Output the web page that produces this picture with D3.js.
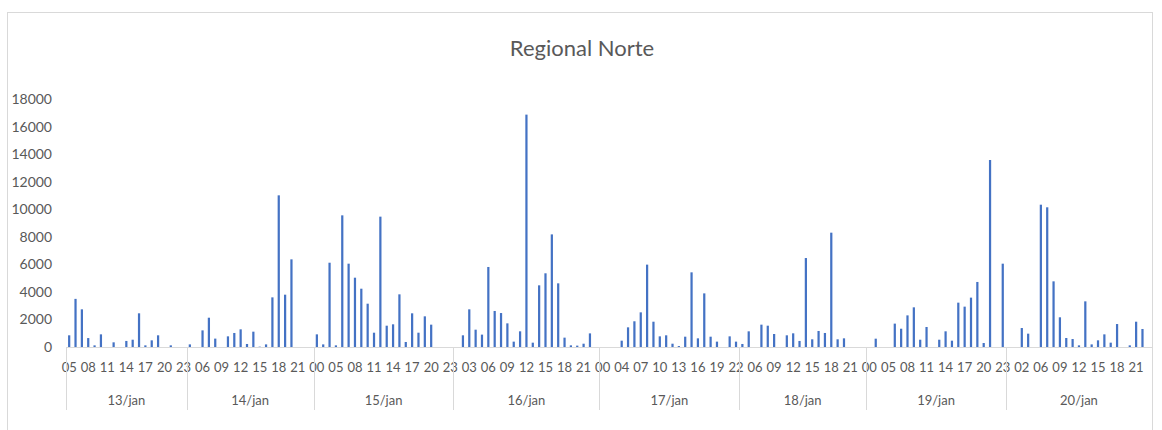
<!DOCTYPE html>
<html>
<head>
<meta charset="utf-8">
<script src="https://cdn.jsdelivr.net/npm/d3@7"></script>
<style>
  html, body { margin: 0; padding: 0; background: #fff; }
  svg { display: block; }
  text { font-family: Lato, "Open Sans", sans-serif; fill: #595959; }
</style>
</head>
<body>
<svg id="chart" width="1162" height="430"></svg>
<script>
const title = "Regional Norte";
const days = ["13/jan", "14/jan", "15/jan", "16/jan", "17/jan", "18/jan", "19/jan", "20/jan"];
const hoursByDay = [
  ["05","06","07","08","09","10","11","12","13","14","15","16","17","18","19","20","21","22","23"],
  ["01","03","06","07","08","09","10","11","12","13","14","15","16","17","18","19","20","21","22","23"],
  ["00","02","04","05","06","07","08","09","10","11","12","13","14","15","16","17","18","19","20","21","22","23"],
  ["01","02","03","04","05","06","07","08","09","10","11","12","13","14","15","16","17","18","19","20","21","22","23"],
  ["00","02","03","04","05","06","07","08","09","10","11","12","13","14","15","16","17","18","19","20","21","22"],
  ["03","05","06","07","08","09","10","11","12","13","14","15","16","17","18","19","20","21","22","23"],
  ["00","02","04","05","06","07","08","09","10","11","12","13","14","15","16","17","18","19","20","21","22","23"],
  ["00","01","02","04","05","06","07","08","09","10","11","12","13","14","15","16","17","18","19","20","21","22","23"]
];
const valuesByDay = [
  [850,3500,2740,650,120,920,0,340,0,440,530,2450,120,485,850,0,120,0,0],
  [190,0,1210,2130,610,0,775,1020,1285,220,1115,25,190,3610,11030,3805,6375,0,0,0],
  [920,190,6130,120,9575,6060,5040,4240,3150,1040,9480,1550,1650,3830,365,2450,1040,2230,1625,0,0,0],
  [0,850,2740,1260,900,5820,2620,2470,1720,390,1140,16900,315,4485,5360,8190,4630,680,120,100,240,990,0],
  [0,0,0,460,1430,1870,2520,5990,1840,775,850,240,70,750,5430,630,3900,750,390,0,775,390],
  [220,1140,0,1625,1550,945,0,850,995,440,6470,560,1165,1020,8315,560,630,0,0,0],
  [0,605,0,0,1700,1330,2300,2885,530,1455,0,530,1140,460,3225,2935,3590,4730,290,13600,0,6060],
  [0,0,1380,970,0,10350,10160,4775,2160,655,580,120,3320,190,485,920,315,1670,0,120,1840,1310,0]
];
const yTicks = [0,2000,4000,6000,8000,10000,12000,14000,16000,18000];
const labelEvery = 3;

// flatten categories
const cats = [];
days.forEach((d, di) => {
  hoursByDay[di].forEach((h, hi) => {
    cats.push({ key: d + " " + h, day: d, hour: h, value: valuesByDay[di][hi] });
  });
});

const svg = d3.select("#chart");
const plot = { left: 66, right: 1152, top: 99.5, bottom: 347 };

// outer chart border
svg.append("rect")
  .attr("x", 7.5).attr("y", 12.5)
  .attr("width", 1145).attr("height", 430)
  .attr("fill", "none").attr("stroke", "#D9D9D9").attr("stroke-width", 1);

svg.append("text")
  .attr("x", 582).attr("y", 56)
  .attr("text-anchor", "middle")
  .style("font-size", "22px")
  .text(title);

const x = d3.scaleBand()
  .domain(cats.map(c => c.key))
  .range([plot.left, plot.right])
  .paddingInner(0.65).paddingOuter(0.325);

const y = d3.scaleLinear().domain([0, 18000]).range([plot.bottom, plot.top]);

// y axis labels
const yAxis = d3.axisLeft(y).tickValues(yTicks).tickSize(0).tickPadding(0).tickFormat(d3.format("d"));
const yg = svg.append("g").attr("transform", `translate(52,0)`).call(yAxis);
yg.select(".domain").remove();
yg.selectAll("text").style("font-size", "14px").attr("fill", "#595959").style("font-family", "Lato, sans-serif");

// bars
svg.append("g").selectAll("rect").data(cats).join("rect")
  .attr("x", d => x(d.key))
  .attr("y", d => y(d.value))
  .attr("width", x.bandwidth())
  .attr("height", d => y(0) - y(d.value))
  .attr("fill", "#4472C4");

// category axis line
const xAxis = d3.axisBottom(x).tickSize(0).tickPadding(0).tickFormat("");
const xg = svg.append("g").attr("transform", `translate(0,${plot.bottom + 0.5})`).call(xAxis);
xg.select(".domain").attr("stroke", "#D9D9D9").attr("d", `M${plot.left},0H${plot.right}`);

// hour labels every 3rd category
const step = x.step();
svg.append("g").selectAll("text")
  .data(cats.filter((c, i) => i % labelEvery === 0))
  .join("text")
  .attr("x", d => x(d.key) + x.bandwidth() / 2)
  .attr("y", 372)
  .attr("text-anchor", "middle")
  .style("font-size", "13px")
  .text(d => d.hour);

// day groups
let start = 0;
const groups = days.map((d, di) => {
  const n = hoursByDay[di].length;
  const g = { day: d, first: cats[start].key, last: cats[start + n - 1].key };
  start += n;
  return g;
});
const sepX = groups.map(g => x(g.first) - (step - x.bandwidth()) / 2);
sepX.push(plot.right);
svg.append("g").selectAll("line").data(sepX).join("line")
  .attr("x1", d => Math.round(d) + 0.5).attr("x2", d => Math.round(d) + 0.5)
  .attr("y1", plot.bottom).attr("y2", 410)
  .attr("stroke", "#D9D9D9");

svg.append("g").selectAll("text").data(groups).join("text")
  .attr("x", g => (x(g.first) + x(g.last) + x.bandwidth()) / 2)
  .attr("y", 405)
  .attr("text-anchor", "middle")
  .style("font-size", "13px")
  .text(g => g.day);
</script>
</body>
</html>
